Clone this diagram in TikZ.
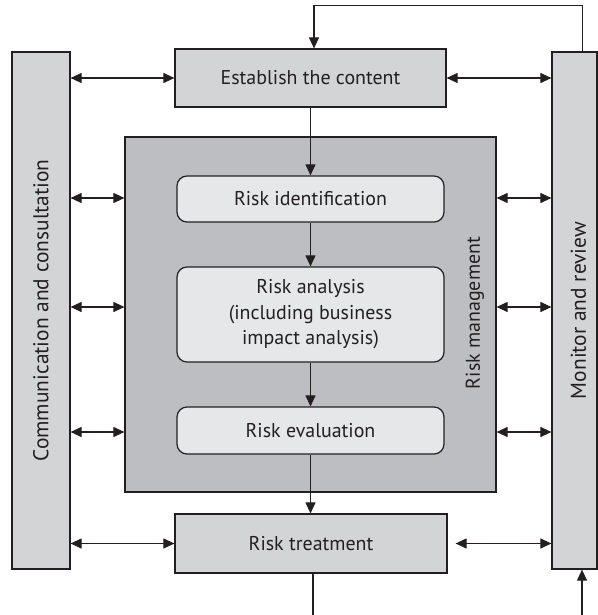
\documentclass[tikz,border=0pt]{standalone}
\usepackage{fontspec}
\setmainfont{PT Sans}
\usetikzlibrary{arrows.meta,positioning}

\definecolor{sidegray}{RGB}{211,212,214}
\definecolor{rmgray}{RGB}{189,190,193}
\definecolor{stepgray}{RGB}{230,231,232}
\definecolor{inkline}{RGB}{35,31,32}

\tikzset{
  plainbox/.style={draw=inkline,line width=1.2bp,fill=sidegray,inner sep=0pt},
  stepbox/.style={draw=inkline,line width=1.2bp,fill=stepgray,rounded corners=10bp,
    minimum width=267bp,inner sep=0pt,align=center},
  sidetext/.style={rotate=90,font=\fontsize{21.5}{26}\selectfont},
  flow/.style={draw=inkline,line width=1.1bp,-{Triangle[length=11bp,width=10bp]}},
  both/.style={draw=inkline,line width=1.1bp,{Triangle[length=11bp,width=10bp]}-{Triangle[length=11bp,width=10bp]}}
}

\begin{document}
\begin{tikzpicture}[x=1bp,y=-1bp,font=\fontsize{20}{25.5}\selectfont,text=inkline]
\useasboundingbox (0,0) rectangle (598,615);

% outer columns
\node[plainbox,minimum width=58bp,minimum height=517bp] (comm) at (41,310.5) {};
\node[sidetext] (commtxt) at (comm.center) {Communication and consultation};
\node[plainbox,minimum width=45bp,minimum height=517bp] (mon) at (574.5,310.5) {};
\node[sidetext] (montxt) at ([xshift=4bp]mon.center) {Monitor and review};

% top and bottom steps
\node[plainbox,minimum width=271bp,minimum height=58bp] (est) at (310.5,78) {Establish the content};
\node[plainbox,minimum width=272bp,minimum height=59bp] (treat) at (311,543.5) {Risk treatment};

% risk management block
\node[draw=inkline,line width=1.2bp,fill=rmgray,minimum width=371bp,minimum height=355bp] (rm) at (310.5,314.5) {};
\node[rotate=90] (rmtxt) at (475,313) {Risk management};

\node[stepbox,minimum height=46bp] (ident) at (310.5,199) {Risk identification};
\node[stepbox,minimum height=95bp] (anal) at (310.5,314.5) {Risk analysis\\(including business\\impact analysis)};
\node[stepbox,minimum height=47bp] (eval) at (310.5,430.5) {Risk evaluation};

% main flow
\draw[flow] (est) -- (ident);
\draw[flow] (ident) -- (anal);
\draw[flow] (anal) -- (eval);
\draw[flow] (eval) -- (eval |- treat.north);

% consultation and review links
\draw[both] (comm.east |- est) -- (est.west);
\draw[both] (est.east) -- (mon.west |- est);
\foreach \y in {198,307,432}{
  \draw[both] (comm.east |- 0,\y) -- (rm.west |- 0,\y);
  \draw[both] (rm.east |- 0,\y) -- (mon.west |- 0,\y);
}
\draw[both] (comm.east |- treat) -- (treat.west);
\draw[both,shorten <=8bp] (treat.east) -- (mon.west |- treat);

% feedback loop
\coordinate (treatout) at (313,615);
\coordinate (monin) at (582,615);
\draw[flow] ([xshift=8bp]mon.north) -- ++(0,-46) -| ([xshift=3.5bp]est.north);
\draw[draw=inkline,line width=1.1bp] (treat.south -| treatout) -- (treatout);
\draw[flow] (monin) -- (monin |- mon.south);
\end{tikzpicture}
\end{document}
